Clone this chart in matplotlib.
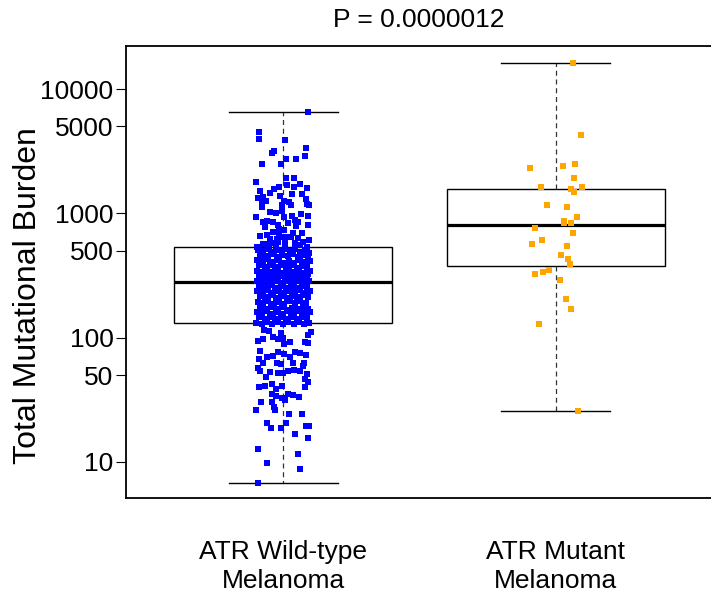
import numpy as np
import matplotlib
matplotlib.use("Agg")
import matplotlib.pyplot as plt

plt.rcParams['font.family'] = ['Liberation Sans', 'DejaVu Sans']

# ---------------- data ----------------
categories = ["ATR Wild-type\nMelanoma", "ATR Mutant\nMelanoma"]
title_text = "P = 0.0000012"
ylabel_text = "Total Mutational Burden"
ytick_values = [10, 50, 100, 500, 1000, 5000, 10000]

# ATR wild-type: log10(total mutational burden) and horizontal jitter
wt_log10 = [
    3.813, 3.658, 3.596, 3.590, 3.529, 3.505, 3.483, 3.459, 3.440, 3.440,
    3.397, 3.395, 3.281, 3.281, 3.253, 3.228, 3.237, 3.215, 3.212, 3.202,
    3.199, 3.183, 3.164, 3.152, 3.152, 3.113, 3.124, 3.135, 3.140, 3.100,
    3.089, 3.076, 3.064, 3.097, 3.097, 3.054, 3.064, 3.064, 3.019, 2.982,
    2.995, 2.967, 3.011, 3.001, 2.967, 2.982, 2.947, 2.934, 2.939, 2.934,
    2.928, 2.907, 2.920, 2.899, 2.907, 2.893, 2.872, 2.866, 2.829, 2.853,
    2.840, 2.840, 2.845, 2.816, 2.797, 2.791, 2.807, 2.813, 2.807, 2.802,
    2.773, 2.786, 2.754, 2.754, 2.759, 2.773, 2.759, 2.765, 2.743, 2.732,
    2.732, 2.732,
    2.706, 2.698, 2.711, 2.689, 2.706, 2.716, 2.700, 2.711, 2.692, 2.706, 2.684,
    2.665, 2.657, 2.673, 2.652, 2.665, 2.657, 2.673, 2.652, 2.665, 2.647,
    2.625, 2.617, 2.630, 2.612, 2.625, 2.604, 2.620, 2.604, 2.625, 2.609, 2.620,
    2.585, 2.571, 2.582, 2.566, 2.585, 2.571, 2.582, 2.561, 2.577, 2.566,
    2.539, 2.531, 2.545, 2.526, 2.539, 2.523, 2.545, 2.529, 2.539, 2.521, 2.534,
    2.512, 2.507, 2.512, 2.507, 2.512, 2.472, 2.472, 2.475,
    2.496, 2.486, 2.502, 2.483, 2.496, 2.480, 2.496, 2.483, 2.499, 2.486,
    2.459, 2.445, 2.464, 2.443, 2.459, 2.440, 2.456, 2.443, 2.461, 2.445, 2.456,
    2.416, 2.405, 2.421, 2.400, 2.416, 2.397, 2.413, 2.400, 2.419, 2.405,
    2.378, 2.365, 2.384, 2.362, 2.378, 2.362, 2.378, 2.365, 2.381, 2.362, 2.373,
    2.335, 2.325, 2.341, 2.322, 2.338, 2.319, 2.335, 2.325, 2.341, 2.327,
    2.290, 2.277, 2.295, 2.271, 2.287, 2.274, 2.293, 2.277, 2.293, 2.277,
    2.244, 2.234, 2.250, 2.228, 2.244, 2.226, 2.242, 2.231, 2.250, 2.234,
    2.209, 2.196, 2.215, 2.191, 2.207, 2.193, 2.212, 2.199, 2.215, 2.196, 2.207,
    2.164, 2.153, 2.169, 2.148, 2.164, 2.150, 2.166, 2.153, 2.169, 2.156,
    2.121, 2.110, 2.126, 2.107, 2.124, 2.110, 2.126, 2.113, 2.129, 2.110, 2.121,
    2.062, 2.057, 2.049, 2.022, 2.035, 2.003, 1.974, 1.990, 1.987, 1.995,
    1.968, 1.949, 1.968, 1.955, 1.890, 1.887, 1.869, 1.882, 1.874, 1.861,
    1.847, 1.853, 1.799, 1.788, 1.842, 1.826, 1.794, 1.799, 1.799, 1.772,
    1.754, 1.729, 1.724, 1.713, 1.713, 1.732, 1.740, 1.735, 1.708, 1.681,
    1.665, 1.646, 1.606, 1.611, 1.628, 1.614, 1.606, 1.585, 1.544, 1.531,
    1.547, 1.539, 1.526, 1.512, 1.499, 1.485, 1.485, 1.445, 1.418, 1.421,
    1.389, 1.389, 1.316, 1.311, 1.271, 1.271, 1.292, 1.292, 1.223, 1.196,
    1.105, 1.067, 0.989, 0.944, 0.834,
]
wt_jitter = [
    0.090, -0.088, -0.088, 0.006, 0.084, -0.033, -0.039, 0.081, 0.010, 0.048,
    -0.078, -0.006, 0.011, 0.040, -0.098, 0.016, 0.062, -0.016, 0.039, 0.087,
    -0.033, -0.083, -0.048, 0.034, 0.068, 0.084, -0.093, -0.073, -0.011, 0.004,
    0.021, 0.087, 0.094, -0.076, -0.064, -0.077, -0.005, 0.029, -0.002, 0.090,
    0.065, -0.098, -0.049, -0.027, 0.005, 0.033, 0.044, -0.072, -0.060, -0.035,
    0.054, -0.020, 0.020, 0.046, 0.090, -0.067, -0.015, 0.002, -0.059, -0.035,
    -0.013, 0.038, 0.070, -0.083, -0.048, -0.023, -0.005, 0.011, 0.028, 0.056,
    0.072, 0.094, -0.075, -0.059, -0.042, -0.017, 0.007, 0.044, 0.062, -0.095,
    -0.026, 0.087,
    -0.093, -0.072, -0.051, -0.033, -0.013, 0.007, 0.026, 0.044, 0.062, 0.082, 0.097,
    -0.084, -0.064, -0.045, -0.023, -0.002, 0.017, 0.035, 0.055, 0.073, 0.092,
    -0.094, -0.075, -0.055, -0.035, -0.016, 0.004, 0.023, 0.042, 0.061, 0.081, 0.099,
    -0.087, -0.067, -0.048, -0.028, -0.009, 0.011, 0.031, 0.050, 0.070, 0.089,
    -0.097, -0.077, -0.057, -0.038, -0.018, 0.001, 0.021, 0.040, 0.060, 0.079, 0.098,
    -0.066, -0.027, 0.012, 0.051, 0.090, -0.046, 0.032, 0.071,
    -0.089, -0.070, -0.050, -0.031, -0.011, 0.009, 0.028, 0.048, 0.067, 0.087,
    -0.097, -0.078, -0.059, -0.039, -0.020, 0.000, 0.020, 0.039, 0.059, 0.078, 0.097,
    -0.087, -0.067, -0.048, -0.028, -0.009, 0.011, 0.031, 0.050, 0.070, 0.089,
    -0.094, -0.075, -0.055, -0.035, -0.016, 0.004, 0.023, 0.043, 0.062, 0.082, 0.100,
    -0.084, -0.065, -0.045, -0.026, -0.006, 0.013, 0.033, 0.053, 0.072, 0.092,
    -0.093, -0.073, -0.054, -0.034, -0.015, 0.005, 0.024, 0.044, 0.064, 0.083,
    -0.083, -0.064, -0.044, -0.024, -0.005, 0.015, 0.034, 0.054, 0.073, 0.093,
    -0.097, -0.077, -0.057, -0.038, -0.018, 0.001, 0.021, 0.040, 0.060, 0.079, 0.099,
    -0.087, -0.067, -0.048, -0.028, -0.009, 0.011, 0.031, 0.050, 0.070, 0.089,
    -0.098, -0.078, -0.059, -0.039, -0.020, 0.000, 0.020, 0.039, 0.059, 0.078, 0.097,
    -0.070, -0.051, 0.101, 0.093, -0.009, -0.037, -0.090, -0.072, -0.017, 0.001,
    0.026, 0.005, 0.082, 0.093, -0.083, -0.020, 0.005, 0.044, 0.062, 0.084,
    -0.060, -0.037, -0.023, -0.007, 0.026, -0.088, -0.072, 0.077, 0.035, 0.072,
    -0.090, -0.084, -0.048, -0.017, 0.001, 0.020, 0.040, 0.064, 0.089, -0.064,
    0.081, 0.090, -0.088, -0.066, -0.042, -0.005, 0.081, -0.026, -0.040, -0.027,
    0.017, 0.037, 0.057, -0.005, 0.006, -0.082, -0.039, -0.032, -0.028, -0.098,
    0.022, 0.070, -0.060, 0.010, -0.044, -0.006, 0.083, 0.095, 0.045, 0.090,
    -0.090, 0.055, -0.059, 0.062, -0.092,
]

# ATR mutant: total mutational burden and horizontal jitter
mut_burden = [
    16140, 4275, 2333, 2404, 2497, 1914, 1640, 1640, 1562, 1479,
    1169, 1126, 935, 868, 837, 842, 767, 691, 614, 570,
    549, 465, 427, 389, 352, 336, 326, 293, 206, 171,
    128, 25.6,
]
mut_jitter = [
    0.063, 0.093, -0.094, 0.026, 0.072, 0.066, -0.053, 0.095, 0.057, 0.067,
    -0.033, 0.041, 0.078, 0.032, 0.032, 0.057, -0.077, 0.063, -0.050, -0.086,
    0.041, 0.021, 0.044, 0.054, -0.025, -0.047, -0.076, 0.017, 0.037, 0.057,
    -0.062, 0.083,
]

point_colors = ["#0000FF", "#FFA500"]

# ---------------- plot ----------------
wt_burden = 10 ** np.array(wt_log10)
groups = [wt_burden, np.array(mut_burden)]
jitters = [np.array(wt_jitter), np.array(mut_jitter)]

fig = plt.figure(figsize=(7.11, 5.98), dpi=100)
ax = fig.add_axes([126 / 711, 1 - 498 / 598, (712.7 - 126) / 711, (498 - 46) / 598])

bp = ax.boxplot(groups, positions=[1, 2], widths=0.8, whis=(0, 100),
                showfliers=False, patch_artist=True, capwidths=0.4,
                boxprops=dict(facecolor='white', edgecolor='black', linewidth=1.0),
                medianprops=dict(color='black', linewidth=2.3),
                whiskerprops=dict(color='#333333', linewidth=0.9, linestyle=(0, (4, 3))),
                capprops=dict(color='black', linewidth=1.0),
                zorder=1)

for i, (g, j) in enumerate(zip(groups, jitters)):
    ax.plot(np.full(len(g), i + 1) + j, g, linestyle='none', marker='s',
            markersize=3.8, markeredgewidth=0, color=point_colors[i], zorder=3)

ax.set_yscale('log')
ax.set_ylim(10 ** 0.71, 10 ** 4.346)
ax.set_xlim(0.424, 2.576)
ax.set_yticks(ytick_values)
ax.set_yticklabels([str(v) for v in ytick_values])
ax.yaxis.set_minor_locator(matplotlib.ticker.NullLocator())
ax.tick_params(axis='y', labelsize=19, length=7, width=0.8, pad=2)
ax.set_xticks([1, 2])
ax.set_xticklabels(categories)
ax.tick_params(axis='x', labelsize=19, length=0, pad=30)
for lab in ax.get_xticklabels():
    lab.set_linespacing(1.3)
fig.text(28 / 711, 1 - 296 / 598, ylabel_text, fontsize=23, rotation=90,
         ha='center', va='center')
fig.text(419 / 711, 1 - 20 / 598, title_text, fontsize=19, ha='center', va='center')
for s in ax.spines.values():
    s.set_linewidth(1.3)

fig.savefig("out.png", dpi=100)
